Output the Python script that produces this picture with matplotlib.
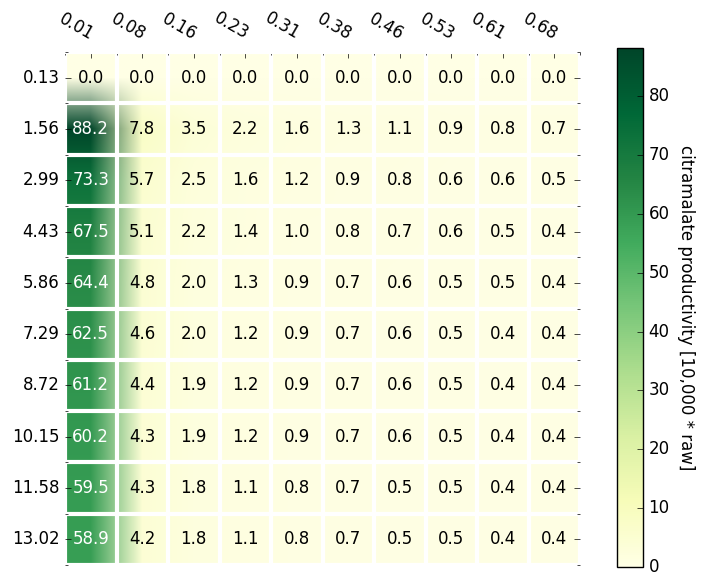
import matplotlib
matplotlib.use("Agg")
import matplotlib.pyplot as plt
import matplotlib.transforms as mtransforms
import numpy as np

plt.style.use("classic")

# axis labels
x_labels = ["0.01", "0.08", "0.16", "0.23", "0.31", "0.38", "0.46", "0.53", "0.61", "0.68"]
y_labels = ["0.13", "1.56", "2.99", "4.43", "5.86", "7.29", "8.72", "10.15", "11.58", "13.02"]

# productivity values, one list per row
row_013 = [0.0, 0.0, 0.0, 0.0, 0.0, 0.0, 0.0, 0.0, 0.0, 0.0]
row_156 = [88.2, 7.8, 3.5, 2.2, 1.6, 1.3, 1.1, 0.9, 0.8, 0.7]
row_299 = [73.3, 5.7, 2.5, 1.6, 1.2, 0.9, 0.8, 0.6, 0.6, 0.5]
row_443 = [67.5, 5.1, 2.2, 1.4, 1.0, 0.8, 0.7, 0.6, 0.5, 0.4]
row_586 = [64.4, 4.8, 2.0, 1.3, 0.9, 0.7, 0.6, 0.5, 0.5, 0.4]
row_729 = [62.5, 4.6, 2.0, 1.2, 0.9, 0.7, 0.6, 0.5, 0.4, 0.4]
row_872 = [61.2, 4.4, 1.9, 1.2, 0.9, 0.7, 0.6, 0.5, 0.4, 0.4]
row_1015 = [60.2, 4.3, 1.9, 1.2, 0.9, 0.7, 0.6, 0.5, 0.4, 0.4]
row_1158 = [59.5, 4.3, 1.8, 1.1, 0.8, 0.7, 0.5, 0.5, 0.4, 0.4]
row_1302 = [58.9, 4.2, 1.8, 1.1, 0.8, 0.7, 0.5, 0.5, 0.4, 0.4]

data = np.array([row_013, row_156, row_299, row_443, row_586,
                 row_729, row_872, row_1015, row_1158, row_1302])

fig = plt.figure(figsize=(7.04, 5.86), dpi=100, facecolor="white")
ax = fig.add_axes([65 / 704, 21 / 586, 515 / 704, 513 / 586])
cax = fig.add_axes([617 / 704, 19 / 586, 26 / 704, 519 / 586])

# colour first, then blend - the way old matplotlib smoothed images
im = ax.imshow(data, cmap="YlGn", interpolation="bilinear",
               interpolation_stage="rgba", aspect="auto",
               vmin=0, vmax=data.max())

n_rows, n_cols = data.shape
for i in range(n_rows):
    for j in range(n_cols):
        val = data[i, j]
        color = "white" if val > 40 else "black"
        ax.text(j, i, "%.1f" % val, ha="center", va="center",
                color=color, fontsize=12)

ax.set_frame_on(False)
ax.xaxis.tick_top()
ax.set_xticks(np.arange(n_cols))
ax.set_yticks(np.arange(n_rows))
ax.set_xticklabels(x_labels, rotation=-30, ha="right", va="bottom")
ax.set_yticklabels(y_labels)

# nudge the slanted labels a little right and up
shift = mtransforms.ScaledTranslation(0.065, 0.03, fig.dpi_scale_trans)
for lbl in ax.get_xticklabels():
    lbl.set_transform(lbl.get_transform() + shift)

ax.set_xticks(np.arange(n_cols + 1) - 0.5, minor=True)
ax.set_yticks(np.arange(n_rows + 1) - 0.5, minor=True)
ax.tick_params(which="both", bottom=False, top=True)
ax.grid(which="minor", color="white", linestyle="-", linewidth=3)
ax.grid(which="major", visible=False)
ax.set_xlim(-0.5, n_cols - 0.5)
ax.set_ylim(n_rows - 0.5, -0.5)

cb = fig.colorbar(im, cax=cax)
cb.set_label("citramalate productivity [10,000 * raw]", rotation=270,
             labelpad=18, fontsize=12)

fig.savefig("out.png", dpi=100, facecolor="white")
